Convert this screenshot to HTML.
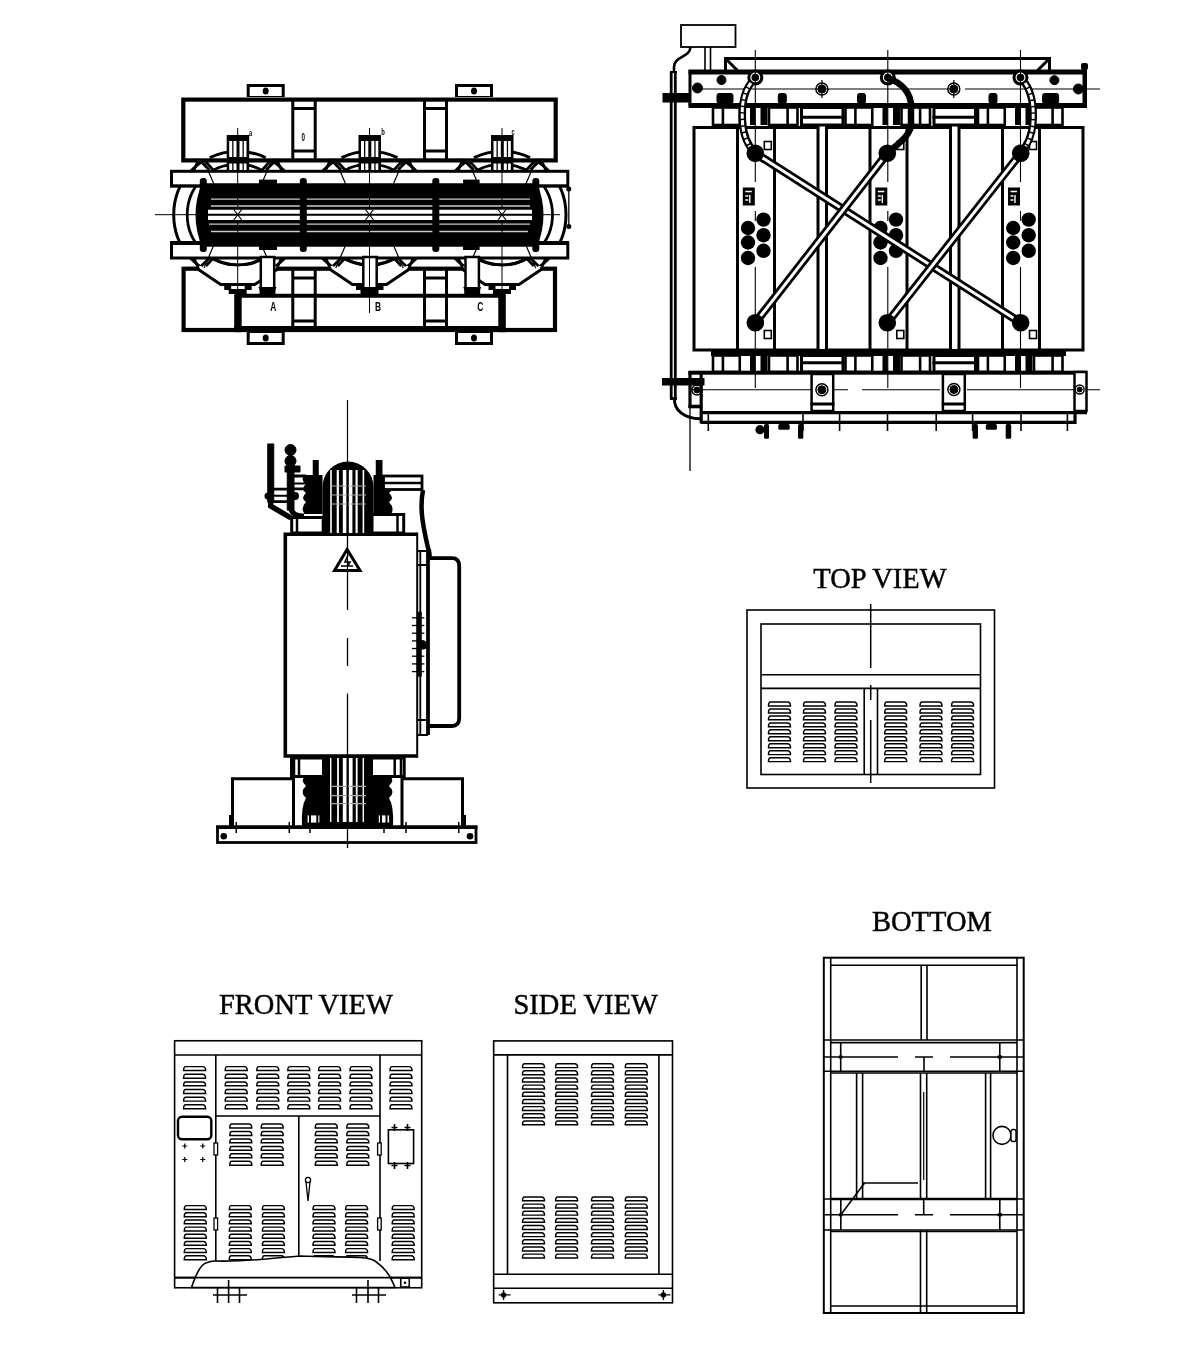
<!DOCTYPE html><html><head><meta charset="utf-8"><style>html,body{margin:0;padding:0;background:#fff;}svg{display:block;filter:grayscale(1)}</style></head><body><svg width="1200" height="1361" viewBox="0 0 1200 1361"><rect width="1200" height="1361" fill="#fff"/><g font-family="Liberation Serif" font-size="28.5" fill="#000" stroke="#000" stroke-width="0.45">
<text x="813.3" y="587.8">TOP VIEW</text>
<text x="872" y="931">BOTTOM</text>
<text x="219" y="1013.5">FRONT VIEW</text>
<text x="513.5" y="1013.5">SIDE VIEW</text>
</g><g fill="none" stroke="#000" stroke-width="1.6"><rect x="747" y="610" width="247.5" height="178"/><rect x="761" y="624" width="219.5" height="150.5"/><path d="M761 674.8H980.5M761 688.4H980.5M864.2 688.4V774.5M877.5 688.4V774.5"/></g><path d="M870.7 604V668M870.7 685V700M870.7 720V783" stroke="#000" stroke-width="1.5" fill="none"/><g fill="none" stroke="#000" stroke-width="1.45"><path d="M770.5 702.0H787.5Q790.5 702.0 790.5 705.9H768.5Q768.5 702.0 770.5 702.0Z"/><path d="M770.5 709.0H787.5Q790.5 709.0 790.5 712.9H768.5Q768.5 709.0 770.5 709.0Z"/><path d="M770.5 715.9H787.5Q790.5 715.9 790.5 719.8H768.5Q768.5 715.9 770.5 715.9Z"/><path d="M770.5 722.9H787.5Q790.5 722.9 790.5 726.8H768.5Q768.5 722.9 770.5 722.9Z"/><path d="M770.5 729.8H787.5Q790.5 729.8 790.5 733.7H768.5Q768.5 729.8 770.5 729.8Z"/><path d="M770.5 736.8H787.5Q790.5 736.8 790.5 740.7H768.5Q768.5 736.8 770.5 736.8Z"/><path d="M770.5 743.8H787.5Q790.5 743.8 790.5 747.7H768.5Q768.5 743.8 770.5 743.8Z"/><path d="M770.5 750.7H787.5Q790.5 750.7 790.5 754.6H768.5Q768.5 750.7 770.5 750.7Z"/><path d="M770.5 757.7H787.5Q790.5 757.7 790.5 761.6H768.5Q768.5 757.7 770.5 757.7Z"/><path d="M805.5 702.0H822.5Q825.5 702.0 825.5 705.9H803.5Q803.5 702.0 805.5 702.0Z"/><path d="M805.5 709.0H822.5Q825.5 709.0 825.5 712.9H803.5Q803.5 709.0 805.5 709.0Z"/><path d="M805.5 715.9H822.5Q825.5 715.9 825.5 719.8H803.5Q803.5 715.9 805.5 715.9Z"/><path d="M805.5 722.9H822.5Q825.5 722.9 825.5 726.8H803.5Q803.5 722.9 805.5 722.9Z"/><path d="M805.5 729.8H822.5Q825.5 729.8 825.5 733.7H803.5Q803.5 729.8 805.5 729.8Z"/><path d="M805.5 736.8H822.5Q825.5 736.8 825.5 740.7H803.5Q803.5 736.8 805.5 736.8Z"/><path d="M805.5 743.8H822.5Q825.5 743.8 825.5 747.7H803.5Q803.5 743.8 805.5 743.8Z"/><path d="M805.5 750.7H822.5Q825.5 750.7 825.5 754.6H803.5Q803.5 750.7 805.5 750.7Z"/><path d="M805.5 757.7H822.5Q825.5 757.7 825.5 761.6H803.5Q803.5 757.7 805.5 757.7Z"/><path d="M837.0 702.0H854.0Q857.0 702.0 857.0 705.9H835.0Q835.0 702.0 837.0 702.0Z"/><path d="M837.0 709.0H854.0Q857.0 709.0 857.0 712.9H835.0Q835.0 709.0 837.0 709.0Z"/><path d="M837.0 715.9H854.0Q857.0 715.9 857.0 719.8H835.0Q835.0 715.9 837.0 715.9Z"/><path d="M837.0 722.9H854.0Q857.0 722.9 857.0 726.8H835.0Q835.0 722.9 837.0 722.9Z"/><path d="M837.0 729.8H854.0Q857.0 729.8 857.0 733.7H835.0Q835.0 729.8 837.0 729.8Z"/><path d="M837.0 736.8H854.0Q857.0 736.8 857.0 740.7H835.0Q835.0 736.8 837.0 736.8Z"/><path d="M837.0 743.8H854.0Q857.0 743.8 857.0 747.7H835.0Q835.0 743.8 837.0 743.8Z"/><path d="M837.0 750.7H854.0Q857.0 750.7 857.0 754.6H835.0Q835.0 750.7 837.0 750.7Z"/><path d="M837.0 757.7H854.0Q857.0 757.7 857.0 761.6H835.0Q835.0 757.7 837.0 757.7Z"/><path d="M886.7 702.0H903.7Q906.7 702.0 906.7 705.9H884.7Q884.7 702.0 886.7 702.0Z"/><path d="M886.7 709.0H903.7Q906.7 709.0 906.7 712.9H884.7Q884.7 709.0 886.7 709.0Z"/><path d="M886.7 715.9H903.7Q906.7 715.9 906.7 719.8H884.7Q884.7 715.9 886.7 715.9Z"/><path d="M886.7 722.9H903.7Q906.7 722.9 906.7 726.8H884.7Q884.7 722.9 886.7 722.9Z"/><path d="M886.7 729.8H903.7Q906.7 729.8 906.7 733.7H884.7Q884.7 729.8 886.7 729.8Z"/><path d="M886.7 736.8H903.7Q906.7 736.8 906.7 740.7H884.7Q884.7 736.8 886.7 736.8Z"/><path d="M886.7 743.8H903.7Q906.7 743.8 906.7 747.7H884.7Q884.7 743.8 886.7 743.8Z"/><path d="M886.7 750.7H903.7Q906.7 750.7 906.7 754.6H884.7Q884.7 750.7 886.7 750.7Z"/><path d="M886.7 757.7H903.7Q906.7 757.7 906.7 761.6H884.7Q884.7 757.7 886.7 757.7Z"/><path d="M922.0 702.0H939.0Q942.0 702.0 942.0 705.9H920.0Q920.0 702.0 922.0 702.0Z"/><path d="M922.0 709.0H939.0Q942.0 709.0 942.0 712.9H920.0Q920.0 709.0 922.0 709.0Z"/><path d="M922.0 715.9H939.0Q942.0 715.9 942.0 719.8H920.0Q920.0 715.9 922.0 715.9Z"/><path d="M922.0 722.9H939.0Q942.0 722.9 942.0 726.8H920.0Q920.0 722.9 922.0 722.9Z"/><path d="M922.0 729.8H939.0Q942.0 729.8 942.0 733.7H920.0Q920.0 729.8 922.0 729.8Z"/><path d="M922.0 736.8H939.0Q942.0 736.8 942.0 740.7H920.0Q920.0 736.8 922.0 736.8Z"/><path d="M922.0 743.8H939.0Q942.0 743.8 942.0 747.7H920.0Q920.0 743.8 922.0 743.8Z"/><path d="M922.0 750.7H939.0Q942.0 750.7 942.0 754.6H920.0Q920.0 750.7 922.0 750.7Z"/><path d="M922.0 757.7H939.0Q942.0 757.7 942.0 761.6H920.0Q920.0 757.7 922.0 757.7Z"/><path d="M953.6 702.0H970.6Q973.6 702.0 973.6 705.9H951.6Q951.6 702.0 953.6 702.0Z"/><path d="M953.6 709.0H970.6Q973.6 709.0 973.6 712.9H951.6Q951.6 709.0 953.6 709.0Z"/><path d="M953.6 715.9H970.6Q973.6 715.9 973.6 719.8H951.6Q951.6 715.9 953.6 715.9Z"/><path d="M953.6 722.9H970.6Q973.6 722.9 973.6 726.8H951.6Q951.6 722.9 953.6 722.9Z"/><path d="M953.6 729.8H970.6Q973.6 729.8 973.6 733.7H951.6Q951.6 729.8 953.6 729.8Z"/><path d="M953.6 736.8H970.6Q973.6 736.8 973.6 740.7H951.6Q951.6 736.8 953.6 736.8Z"/><path d="M953.6 743.8H970.6Q973.6 743.8 973.6 747.7H951.6Q951.6 743.8 953.6 743.8Z"/><path d="M953.6 750.7H970.6Q973.6 750.7 973.6 754.6H951.6Q951.6 750.7 953.6 750.7Z"/><path d="M953.6 757.7H970.6Q973.6 757.7 973.6 761.6H951.6Q951.6 757.7 953.6 757.7Z"/></g><g fill="none" stroke="#000" stroke-width="1.6"><rect x="823.8" y="957.7" width="199.9" height="355.3" stroke-width="2"/><path d="M830.7 957.7V1313M1017 957.7V1313"/><path d="M830.7 965.3H1017M921.2 965.3V1040M927 965.3V1040"/><path d="M823.8 1040H1023.7M830.7 1042.6H1017M823.8 1071.3H1023.7M830.7 1073H1017"/><path d="M823.8 1057H840.7M999.8 1057H1023.7M840.7 1057H898M915 1057H933M950 1057H999.8M924 1057V1071.3"/><path d="M840.7 1042.6V1071.3M999.8 1042.6V1071.3"/><path d="M856.6 1073V1199M862.6 1073V1199M985.6 1073V1199M990.6 1073V1199M920.5 1073V1199M926.7 1073V1199"/><path d="M923.7 1092V1180" stroke-width="1.2"/><path d="M862.6 1183H918M840.8 1214.8L864.6 1183"/><path d="M830.7 1199H1017" stroke-width="2.4"/><path d="M823.8 1199H830.7M1017 1199H1023.7M823.8 1230H1023.7M840.8 1199V1230M999.8 1199V1230"/><path d="M823.8 1214.8H898M915 1214.8H933M950 1214.8H1023.7M923.7 1199V1214.8"/><path d="M830.7 1231.5H1017M920.5 1230V1313M926.7 1230V1313M830.7 1306H1017"/></g><g fill="#000"><ellipse cx="840.8" cy="1214.8" rx="2" ry="2"/><ellipse cx="999.8" cy="1214.8" rx="2.5" ry="2"/><ellipse cx="840.7" cy="1057" rx="2" ry="2"/><ellipse cx="999.8" cy="1057" rx="2.5" ry="2"/></g><circle cx="1002" cy="1135.4" r="9" fill="#fff" stroke="#000" stroke-width="1.6"/><rect x="1011" y="1129.5" width="5" height="12" rx="2" fill="#fff" stroke="#000" stroke-width="1.4"/><g fill="none" stroke="#000" stroke-width="1.6"><rect x="174.6" y="1040.75" width="247.1" height="247"/><path d="M174.6 1055H421.7M215.8 1055V1261M380 1055V1261M215.8 1116H380M298.8 1116V1261M174.6 1277.6H421.7"/><rect x="178" y="1116.75" width="33.3" height="22.5" rx="4" stroke-width="2.4"/><rect x="388.4" y="1129.8" width="25.2" height="33.7"/><rect x="400.75" y="1278" width="8.5" height="9"/></g><g fill="none" stroke="#000" stroke-width="1.45"><path d="M185.6 1066.6H202.6Q205.6 1066.6 205.6 1070.5H183.6Q183.6 1066.6 185.6 1066.6Z"/><path d="M185.6 1074.2H202.6Q205.6 1074.2 205.6 1078.2H183.6Q183.6 1074.2 185.6 1074.2Z"/><path d="M185.6 1081.9H202.6Q205.6 1081.9 205.6 1085.8H183.6Q183.6 1081.9 185.6 1081.9Z"/><path d="M185.6 1089.5H202.6Q205.6 1089.5 205.6 1093.5H183.6Q183.6 1089.5 185.6 1089.5Z"/><path d="M185.6 1097.2H202.6Q205.6 1097.2 205.6 1101.1H183.6Q183.6 1097.2 185.6 1097.2Z"/><path d="M185.6 1104.8H202.6Q205.6 1104.8 205.6 1108.8H183.6Q183.6 1104.8 185.6 1104.8Z"/><path d="M227.2 1066.6H244.2Q247.2 1066.6 247.2 1070.5H225.2Q225.2 1066.6 227.2 1066.6Z"/><path d="M227.2 1074.2H244.2Q247.2 1074.2 247.2 1078.2H225.2Q225.2 1074.2 227.2 1074.2Z"/><path d="M227.2 1081.9H244.2Q247.2 1081.9 247.2 1085.8H225.2Q225.2 1081.9 227.2 1081.9Z"/><path d="M227.2 1089.5H244.2Q247.2 1089.5 247.2 1093.5H225.2Q225.2 1089.5 227.2 1089.5Z"/><path d="M227.2 1097.2H244.2Q247.2 1097.2 247.2 1101.1H225.2Q225.2 1097.2 227.2 1097.2Z"/><path d="M227.2 1104.8H244.2Q247.2 1104.8 247.2 1108.8H225.2Q225.2 1104.8 227.2 1104.8Z"/><path d="M258.8 1066.6H275.8Q278.8 1066.6 278.8 1070.5H256.8Q256.8 1066.6 258.8 1066.6Z"/><path d="M258.8 1074.2H275.8Q278.8 1074.2 278.8 1078.2H256.8Q256.8 1074.2 258.8 1074.2Z"/><path d="M258.8 1081.9H275.8Q278.8 1081.9 278.8 1085.8H256.8Q256.8 1081.9 258.8 1081.9Z"/><path d="M258.8 1089.5H275.8Q278.8 1089.5 278.8 1093.5H256.8Q256.8 1089.5 258.8 1089.5Z"/><path d="M258.8 1097.2H275.8Q278.8 1097.2 278.8 1101.1H256.8Q256.8 1097.2 258.8 1097.2Z"/><path d="M258.8 1104.8H275.8Q278.8 1104.8 278.8 1108.8H256.8Q256.8 1104.8 258.8 1104.8Z"/><path d="M289.8 1066.6H306.8Q309.8 1066.6 309.8 1070.5H287.8Q287.8 1066.6 289.8 1066.6Z"/><path d="M289.8 1074.2H306.8Q309.8 1074.2 309.8 1078.2H287.8Q287.8 1074.2 289.8 1074.2Z"/><path d="M289.8 1081.9H306.8Q309.8 1081.9 309.8 1085.8H287.8Q287.8 1081.9 289.8 1081.9Z"/><path d="M289.8 1089.5H306.8Q309.8 1089.5 309.8 1093.5H287.8Q287.8 1089.5 289.8 1089.5Z"/><path d="M289.8 1097.2H306.8Q309.8 1097.2 309.8 1101.1H287.8Q287.8 1097.2 289.8 1097.2Z"/><path d="M289.8 1104.8H306.8Q309.8 1104.8 309.8 1108.8H287.8Q287.8 1104.8 289.8 1104.8Z"/><path d="M320.6 1066.6H337.6Q340.6 1066.6 340.6 1070.5H318.6Q318.6 1066.6 320.6 1066.6Z"/><path d="M320.6 1074.2H337.6Q340.6 1074.2 340.6 1078.2H318.6Q318.6 1074.2 320.6 1074.2Z"/><path d="M320.6 1081.9H337.6Q340.6 1081.9 340.6 1085.8H318.6Q318.6 1081.9 320.6 1081.9Z"/><path d="M320.6 1089.5H337.6Q340.6 1089.5 340.6 1093.5H318.6Q318.6 1089.5 320.6 1089.5Z"/><path d="M320.6 1097.2H337.6Q340.6 1097.2 340.6 1101.1H318.6Q318.6 1097.2 320.6 1097.2Z"/><path d="M320.6 1104.8H337.6Q340.6 1104.8 340.6 1108.8H318.6Q318.6 1104.8 320.6 1104.8Z"/><path d="M352.0 1066.6H369.0Q372.0 1066.6 372.0 1070.5H350.0Q350.0 1066.6 352.0 1066.6Z"/><path d="M352.0 1074.2H369.0Q372.0 1074.2 372.0 1078.2H350.0Q350.0 1074.2 352.0 1074.2Z"/><path d="M352.0 1081.9H369.0Q372.0 1081.9 372.0 1085.8H350.0Q350.0 1081.9 352.0 1081.9Z"/><path d="M352.0 1089.5H369.0Q372.0 1089.5 372.0 1093.5H350.0Q350.0 1089.5 352.0 1089.5Z"/><path d="M352.0 1097.2H369.0Q372.0 1097.2 372.0 1101.1H350.0Q350.0 1097.2 352.0 1097.2Z"/><path d="M352.0 1104.8H369.0Q372.0 1104.8 372.0 1108.8H350.0Q350.0 1104.8 352.0 1104.8Z"/><path d="M392.0 1066.6H409.0Q412.0 1066.6 412.0 1070.5H390.0Q390.0 1066.6 392.0 1066.6Z"/><path d="M392.0 1074.2H409.0Q412.0 1074.2 412.0 1078.2H390.0Q390.0 1074.2 392.0 1074.2Z"/><path d="M392.0 1081.9H409.0Q412.0 1081.9 412.0 1085.8H390.0Q390.0 1081.9 392.0 1081.9Z"/><path d="M392.0 1089.5H409.0Q412.0 1089.5 412.0 1093.5H390.0Q390.0 1089.5 392.0 1089.5Z"/><path d="M392.0 1097.2H409.0Q412.0 1097.2 412.0 1101.1H390.0Q390.0 1097.2 392.0 1097.2Z"/><path d="M392.0 1104.8H409.0Q412.0 1104.8 412.0 1108.8H390.0Q390.0 1104.8 392.0 1104.8Z"/><path d="M231.8 1124.0H248.8Q251.8 1124.0 251.8 1127.9H229.8Q229.8 1124.0 231.8 1124.0Z"/><path d="M231.8 1131.5H248.8Q251.8 1131.5 251.8 1135.4H229.8Q229.8 1131.5 231.8 1131.5Z"/><path d="M231.8 1138.9H248.8Q251.8 1138.9 251.8 1142.8H229.8Q229.8 1138.9 231.8 1138.9Z"/><path d="M231.8 1146.4H248.8Q251.8 1146.4 251.8 1150.3H229.8Q229.8 1146.4 231.8 1146.4Z"/><path d="M231.8 1153.8H248.8Q251.8 1153.8 251.8 1157.7H229.8Q229.8 1153.8 231.8 1153.8Z"/><path d="M231.8 1161.3H248.8Q251.8 1161.3 251.8 1165.2H229.8Q229.8 1161.3 231.8 1161.3Z"/><path d="M263.2 1124.0H280.2Q283.2 1124.0 283.2 1127.9H261.2Q261.2 1124.0 263.2 1124.0Z"/><path d="M263.2 1131.5H280.2Q283.2 1131.5 283.2 1135.4H261.2Q261.2 1131.5 263.2 1131.5Z"/><path d="M263.2 1138.9H280.2Q283.2 1138.9 283.2 1142.8H261.2Q261.2 1138.9 263.2 1138.9Z"/><path d="M263.2 1146.4H280.2Q283.2 1146.4 283.2 1150.3H261.2Q261.2 1146.4 263.2 1146.4Z"/><path d="M263.2 1153.8H280.2Q283.2 1153.8 283.2 1157.7H261.2Q261.2 1153.8 263.2 1153.8Z"/><path d="M263.2 1161.3H280.2Q283.2 1161.3 283.2 1165.2H261.2Q261.2 1161.3 263.2 1161.3Z"/><path d="M317.3 1124.0H334.3Q337.3 1124.0 337.3 1127.9H315.3Q315.3 1124.0 317.3 1124.0Z"/><path d="M317.3 1131.5H334.3Q337.3 1131.5 337.3 1135.4H315.3Q315.3 1131.5 317.3 1131.5Z"/><path d="M317.3 1138.9H334.3Q337.3 1138.9 337.3 1142.8H315.3Q315.3 1138.9 317.3 1138.9Z"/><path d="M317.3 1146.4H334.3Q337.3 1146.4 337.3 1150.3H315.3Q315.3 1146.4 317.3 1146.4Z"/><path d="M317.3 1153.8H334.3Q337.3 1153.8 337.3 1157.7H315.3Q315.3 1153.8 317.3 1153.8Z"/><path d="M317.3 1161.3H334.3Q337.3 1161.3 337.3 1165.2H315.3Q315.3 1161.3 317.3 1161.3Z"/><path d="M348.8 1124.0H365.8Q368.8 1124.0 368.8 1127.9H346.8Q346.8 1124.0 348.8 1124.0Z"/><path d="M348.8 1131.5H365.8Q368.8 1131.5 368.8 1135.4H346.8Q346.8 1131.5 348.8 1131.5Z"/><path d="M348.8 1138.9H365.8Q368.8 1138.9 368.8 1142.8H346.8Q346.8 1138.9 348.8 1138.9Z"/><path d="M348.8 1146.4H365.8Q368.8 1146.4 368.8 1150.3H346.8Q346.8 1146.4 348.8 1146.4Z"/><path d="M348.8 1153.8H365.8Q368.8 1153.8 368.8 1157.7H346.8Q346.8 1153.8 348.8 1153.8Z"/><path d="M348.8 1161.3H365.8Q368.8 1161.3 368.8 1165.2H346.8Q346.8 1161.3 348.8 1161.3Z"/><path d="M186.3 1205.6H203.3Q206.3 1205.6 206.3 1209.5H184.3Q184.3 1205.6 186.3 1205.6Z"/><path d="M186.3 1212.8H203.3Q206.3 1212.8 206.3 1216.7H184.3Q184.3 1212.8 186.3 1212.8Z"/><path d="M186.3 1219.9H203.3Q206.3 1219.9 206.3 1223.8H184.3Q184.3 1219.9 186.3 1219.9Z"/><path d="M186.3 1227.1H203.3Q206.3 1227.1 206.3 1231.0H184.3Q184.3 1227.1 186.3 1227.1Z"/><path d="M186.3 1234.3H203.3Q206.3 1234.3 206.3 1238.2H184.3Q184.3 1234.3 186.3 1234.3Z"/><path d="M186.3 1241.4H203.3Q206.3 1241.4 206.3 1245.3H184.3Q184.3 1241.4 186.3 1241.4Z"/><path d="M186.3 1248.6H203.3Q206.3 1248.6 206.3 1252.5H184.3Q184.3 1248.6 186.3 1248.6Z"/><path d="M186.3 1255.8H203.3Q206.3 1255.8 206.3 1259.7H184.3Q184.3 1255.8 186.3 1255.8Z"/><path d="M231.3 1205.6H248.3Q251.3 1205.6 251.3 1209.5H229.3Q229.3 1205.6 231.3 1205.6Z"/><path d="M231.3 1212.8H248.3Q251.3 1212.8 251.3 1216.7H229.3Q229.3 1212.8 231.3 1212.8Z"/><path d="M231.3 1219.9H248.3Q251.3 1219.9 251.3 1223.8H229.3Q229.3 1219.9 231.3 1219.9Z"/><path d="M231.3 1227.1H248.3Q251.3 1227.1 251.3 1231.0H229.3Q229.3 1227.1 231.3 1227.1Z"/><path d="M231.3 1234.3H248.3Q251.3 1234.3 251.3 1238.2H229.3Q229.3 1234.3 231.3 1234.3Z"/><path d="M231.3 1241.4H248.3Q251.3 1241.4 251.3 1245.3H229.3Q229.3 1241.4 231.3 1241.4Z"/><path d="M231.3 1248.6H248.3Q251.3 1248.6 251.3 1252.5H229.3Q229.3 1248.6 231.3 1248.6Z"/><path d="M231.3 1255.8H248.3Q251.3 1255.8 251.3 1259.7H229.3Q229.3 1255.8 231.3 1255.8Z"/><path d="M264.4 1205.6H281.4Q284.4 1205.6 284.4 1209.5H262.4Q262.4 1205.6 264.4 1205.6Z"/><path d="M264.4 1212.8H281.4Q284.4 1212.8 284.4 1216.7H262.4Q262.4 1212.8 264.4 1212.8Z"/><path d="M264.4 1219.9H281.4Q284.4 1219.9 284.4 1223.8H262.4Q262.4 1219.9 264.4 1219.9Z"/><path d="M264.4 1227.1H281.4Q284.4 1227.1 284.4 1231.0H262.4Q262.4 1227.1 264.4 1227.1Z"/><path d="M264.4 1234.3H281.4Q284.4 1234.3 284.4 1238.2H262.4Q262.4 1234.3 264.4 1234.3Z"/><path d="M264.4 1241.4H281.4Q284.4 1241.4 284.4 1245.3H262.4Q262.4 1241.4 264.4 1241.4Z"/><path d="M264.4 1248.6H281.4Q284.4 1248.6 284.4 1252.5H262.4Q262.4 1248.6 264.4 1248.6Z"/><path d="M264.4 1255.8H281.4Q284.4 1255.8 284.4 1259.7H262.4Q262.4 1255.8 264.4 1255.8Z"/><path d="M315.0 1205.6H332.0Q335.0 1205.6 335.0 1209.5H313.0Q313.0 1205.6 315.0 1205.6Z"/><path d="M315.0 1212.8H332.0Q335.0 1212.8 335.0 1216.7H313.0Q313.0 1212.8 315.0 1212.8Z"/><path d="M315.0 1219.9H332.0Q335.0 1219.9 335.0 1223.8H313.0Q313.0 1219.9 315.0 1219.9Z"/><path d="M315.0 1227.1H332.0Q335.0 1227.1 335.0 1231.0H313.0Q313.0 1227.1 315.0 1227.1Z"/><path d="M315.0 1234.3H332.0Q335.0 1234.3 335.0 1238.2H313.0Q313.0 1234.3 315.0 1234.3Z"/><path d="M315.0 1241.4H332.0Q335.0 1241.4 335.0 1245.3H313.0Q313.0 1241.4 315.0 1241.4Z"/><path d="M315.0 1248.6H332.0Q335.0 1248.6 335.0 1252.5H313.0Q313.0 1248.6 315.0 1248.6Z"/><path d="M315.0 1255.8H332.0Q335.0 1255.8 335.0 1259.7H313.0Q313.0 1255.8 315.0 1255.8Z"/><path d="M347.6 1205.6H364.6Q367.6 1205.6 367.6 1209.5H345.6Q345.6 1205.6 347.6 1205.6Z"/><path d="M347.6 1212.8H364.6Q367.6 1212.8 367.6 1216.7H345.6Q345.6 1212.8 347.6 1212.8Z"/><path d="M347.6 1219.9H364.6Q367.6 1219.9 367.6 1223.8H345.6Q345.6 1219.9 347.6 1219.9Z"/><path d="M347.6 1227.1H364.6Q367.6 1227.1 367.6 1231.0H345.6Q345.6 1227.1 347.6 1227.1Z"/><path d="M347.6 1234.3H364.6Q367.6 1234.3 367.6 1238.2H345.6Q345.6 1234.3 347.6 1234.3Z"/><path d="M347.6 1241.4H364.6Q367.6 1241.4 367.6 1245.3H345.6Q345.6 1241.4 347.6 1241.4Z"/><path d="M347.6 1248.6H364.6Q367.6 1248.6 367.6 1252.5H345.6Q345.6 1248.6 347.6 1248.6Z"/><path d="M347.6 1255.8H364.6Q367.6 1255.8 367.6 1259.7H345.6Q345.6 1255.8 347.6 1255.8Z"/><path d="M394.2 1205.6H411.2Q414.2 1205.6 414.2 1209.5H392.2Q392.2 1205.6 394.2 1205.6Z"/><path d="M394.2 1212.8H411.2Q414.2 1212.8 414.2 1216.7H392.2Q392.2 1212.8 394.2 1212.8Z"/><path d="M394.2 1219.9H411.2Q414.2 1219.9 414.2 1223.8H392.2Q392.2 1219.9 394.2 1219.9Z"/><path d="M394.2 1227.1H411.2Q414.2 1227.1 414.2 1231.0H392.2Q392.2 1227.1 394.2 1227.1Z"/><path d="M394.2 1234.3H411.2Q414.2 1234.3 414.2 1238.2H392.2Q392.2 1234.3 394.2 1234.3Z"/><path d="M394.2 1241.4H411.2Q414.2 1241.4 414.2 1245.3H392.2Q392.2 1241.4 394.2 1241.4Z"/><path d="M394.2 1248.6H411.2Q414.2 1248.6 414.2 1252.5H392.2Q392.2 1248.6 394.2 1248.6Z"/><path d="M394.2 1255.8H411.2Q414.2 1255.8 414.2 1259.7H392.2Q392.2 1255.8 394.2 1255.8Z"/></g><path d="M191.5 1287.5C200 1262 205 1262 215 1261C250 1262 270 1258 300 1256C340 1258 365 1255 375 1261C385 1268 390 1275 395 1287.5Z" fill="#fff" stroke="#000" stroke-width="1.6"/><path d="M174.6 1277.6H421.7" stroke="#000" stroke-width="1.6"/><g fill="#fff" stroke="#000" stroke-width="1.3"><rect x="214.0" y="1143" width="3.6" height="12"/><rect x="214.0" y="1218" width="3.6" height="12"/><rect x="377.59999999999997" y="1143" width="3.6" height="12"/><rect x="377.59999999999997" y="1218" width="3.6" height="12"/></g><path d="M306 1182L308 1201L310 1182" fill="none" stroke="#000" stroke-width="1.3"/><circle cx="308" cy="1180" r="2.6" fill="#fff" stroke="#000" stroke-width="1.3"/><g stroke="#000" stroke-width="1.6"><path d="M391.5 1127.5H397.5M394.5 1124.0V1131.0"/><path d="M391.5 1165.5H397.5M394.5 1162.0V1169.0"/><path d="M404.5 1127.5H410.5M407.5 1124.0V1131.0"/><path d="M404.5 1165.5H410.5M407.5 1162.0V1169.0"/></g><circle cx="405" cy="1282.7" r="1.3" fill="#000"/><g stroke="#000" stroke-width="1.2"><path d="M182.25 1146H187.25M184.75 1143.5V1148.5"/><path d="M200.25 1146H205.25M202.75 1143.5V1148.5"/><path d="M182.25 1159.5H187.25M184.75 1157.0V1162.0"/><path d="M200.25 1159.5H205.25M202.75 1157.0V1162.0"/></g><g stroke="#000" stroke-width="1.6" fill="none"><path d="M213 1295H247M217.5 1288V1303M228.6 1280V1303M239.5 1288V1303"/><path d="M352 1295H386M356.5 1288V1303M368 1280V1303M378.5 1288V1303"/></g><g fill="none" stroke="#000" stroke-width="1.6"><rect x="493.65" y="1040.9" width="178.85" height="261.9"/><path d="M493.65 1054.9H672.5M507.5 1054.9V1274.25M658.9 1054.9V1274.25M493.65 1274.25H672.5M493.65 1288.25H672.5"/></g><g fill="none" stroke="#000" stroke-width="1.45"><path d="M524.5 1063.7H541.5Q544.5 1063.7 544.5 1067.6H522.5Q522.5 1063.7 524.5 1063.7Z"/><path d="M524.5 1070.8H541.5Q544.5 1070.8 544.5 1074.7H522.5Q522.5 1070.8 524.5 1070.8Z"/><path d="M524.5 1078.0H541.5Q544.5 1078.0 544.5 1081.9H522.5Q522.5 1078.0 524.5 1078.0Z"/><path d="M524.5 1085.1H541.5Q544.5 1085.1 544.5 1089.0H522.5Q522.5 1085.1 524.5 1085.1Z"/><path d="M524.5 1092.3H541.5Q544.5 1092.3 544.5 1096.2H522.5Q522.5 1092.3 524.5 1092.3Z"/><path d="M524.5 1099.5H541.5Q544.5 1099.5 544.5 1103.4H522.5Q522.5 1099.5 524.5 1099.5Z"/><path d="M524.5 1106.6H541.5Q544.5 1106.6 544.5 1110.5H522.5Q522.5 1106.6 524.5 1106.6Z"/><path d="M524.5 1113.8H541.5Q544.5 1113.8 544.5 1117.7H522.5Q522.5 1113.8 524.5 1113.8Z"/><path d="M524.5 1120.9H541.5Q544.5 1120.9 544.5 1124.8H522.5Q522.5 1120.9 524.5 1120.9Z"/><path d="M557.6 1063.7H574.6Q577.6 1063.7 577.6 1067.6H555.6Q555.6 1063.7 557.6 1063.7Z"/><path d="M557.6 1070.8H574.6Q577.6 1070.8 577.6 1074.7H555.6Q555.6 1070.8 557.6 1070.8Z"/><path d="M557.6 1078.0H574.6Q577.6 1078.0 577.6 1081.9H555.6Q555.6 1078.0 557.6 1078.0Z"/><path d="M557.6 1085.1H574.6Q577.6 1085.1 577.6 1089.0H555.6Q555.6 1085.1 557.6 1085.1Z"/><path d="M557.6 1092.3H574.6Q577.6 1092.3 577.6 1096.2H555.6Q555.6 1092.3 557.6 1092.3Z"/><path d="M557.6 1099.5H574.6Q577.6 1099.5 577.6 1103.4H555.6Q555.6 1099.5 557.6 1099.5Z"/><path d="M557.6 1106.6H574.6Q577.6 1106.6 577.6 1110.5H555.6Q555.6 1106.6 557.6 1106.6Z"/><path d="M557.6 1113.8H574.6Q577.6 1113.8 577.6 1117.7H555.6Q555.6 1113.8 557.6 1113.8Z"/><path d="M557.6 1120.9H574.6Q577.6 1120.9 577.6 1124.8H555.6Q555.6 1120.9 557.6 1120.9Z"/><path d="M593.5 1063.7H610.5Q613.5 1063.7 613.5 1067.6H591.5Q591.5 1063.7 593.5 1063.7Z"/><path d="M593.5 1070.8H610.5Q613.5 1070.8 613.5 1074.7H591.5Q591.5 1070.8 593.5 1070.8Z"/><path d="M593.5 1078.0H610.5Q613.5 1078.0 613.5 1081.9H591.5Q591.5 1078.0 593.5 1078.0Z"/><path d="M593.5 1085.1H610.5Q613.5 1085.1 613.5 1089.0H591.5Q591.5 1085.1 593.5 1085.1Z"/><path d="M593.5 1092.3H610.5Q613.5 1092.3 613.5 1096.2H591.5Q591.5 1092.3 593.5 1092.3Z"/><path d="M593.5 1099.5H610.5Q613.5 1099.5 613.5 1103.4H591.5Q591.5 1099.5 593.5 1099.5Z"/><path d="M593.5 1106.6H610.5Q613.5 1106.6 613.5 1110.5H591.5Q591.5 1106.6 593.5 1106.6Z"/><path d="M593.5 1113.8H610.5Q613.5 1113.8 613.5 1117.7H591.5Q591.5 1113.8 593.5 1113.8Z"/><path d="M593.5 1120.9H610.5Q613.5 1120.9 613.5 1124.8H591.5Q591.5 1120.9 593.5 1120.9Z"/><path d="M627.3 1063.7H644.3Q647.3 1063.7 647.3 1067.6H625.3Q625.3 1063.7 627.3 1063.7Z"/><path d="M627.3 1070.8H644.3Q647.3 1070.8 647.3 1074.7H625.3Q625.3 1070.8 627.3 1070.8Z"/><path d="M627.3 1078.0H644.3Q647.3 1078.0 647.3 1081.9H625.3Q625.3 1078.0 627.3 1078.0Z"/><path d="M627.3 1085.1H644.3Q647.3 1085.1 647.3 1089.0H625.3Q625.3 1085.1 627.3 1085.1Z"/><path d="M627.3 1092.3H644.3Q647.3 1092.3 647.3 1096.2H625.3Q625.3 1092.3 627.3 1092.3Z"/><path d="M627.3 1099.5H644.3Q647.3 1099.5 647.3 1103.4H625.3Q625.3 1099.5 627.3 1099.5Z"/><path d="M627.3 1106.6H644.3Q647.3 1106.6 647.3 1110.5H625.3Q625.3 1106.6 627.3 1106.6Z"/><path d="M627.3 1113.8H644.3Q647.3 1113.8 647.3 1117.7H625.3Q625.3 1113.8 627.3 1113.8Z"/><path d="M627.3 1120.9H644.3Q647.3 1120.9 647.3 1124.8H625.3Q625.3 1120.9 627.3 1120.9Z"/><path d="M524.5 1196.9H541.5Q544.5 1196.9 544.5 1200.8H522.5Q522.5 1196.9 524.5 1196.9Z"/><path d="M524.5 1204.1H541.5Q544.5 1204.1 544.5 1208.0H522.5Q522.5 1204.1 524.5 1204.1Z"/><path d="M524.5 1211.2H541.5Q544.5 1211.2 544.5 1215.1H522.5Q522.5 1211.2 524.5 1211.2Z"/><path d="M524.5 1218.4H541.5Q544.5 1218.4 544.5 1222.3H522.5Q522.5 1218.4 524.5 1218.4Z"/><path d="M524.5 1225.5H541.5Q544.5 1225.5 544.5 1229.4H522.5Q522.5 1225.5 524.5 1225.5Z"/><path d="M524.5 1232.7H541.5Q544.5 1232.7 544.5 1236.6H522.5Q522.5 1232.7 524.5 1232.7Z"/><path d="M524.5 1239.8H541.5Q544.5 1239.8 544.5 1243.7H522.5Q522.5 1239.8 524.5 1239.8Z"/><path d="M524.5 1247.0H541.5Q544.5 1247.0 544.5 1250.9H522.5Q522.5 1247.0 524.5 1247.0Z"/><path d="M524.5 1254.1H541.5Q544.5 1254.1 544.5 1258.0H522.5Q522.5 1254.1 524.5 1254.1Z"/><path d="M557.6 1196.9H574.6Q577.6 1196.9 577.6 1200.8H555.6Q555.6 1196.9 557.6 1196.9Z"/><path d="M557.6 1204.1H574.6Q577.6 1204.1 577.6 1208.0H555.6Q555.6 1204.1 557.6 1204.1Z"/><path d="M557.6 1211.2H574.6Q577.6 1211.2 577.6 1215.1H555.6Q555.6 1211.2 557.6 1211.2Z"/><path d="M557.6 1218.4H574.6Q577.6 1218.4 577.6 1222.3H555.6Q555.6 1218.4 557.6 1218.4Z"/><path d="M557.6 1225.5H574.6Q577.6 1225.5 577.6 1229.4H555.6Q555.6 1225.5 557.6 1225.5Z"/><path d="M557.6 1232.7H574.6Q577.6 1232.7 577.6 1236.6H555.6Q555.6 1232.7 557.6 1232.7Z"/><path d="M557.6 1239.8H574.6Q577.6 1239.8 577.6 1243.7H555.6Q555.6 1239.8 557.6 1239.8Z"/><path d="M557.6 1247.0H574.6Q577.6 1247.0 577.6 1250.9H555.6Q555.6 1247.0 557.6 1247.0Z"/><path d="M557.6 1254.1H574.6Q577.6 1254.1 577.6 1258.0H555.6Q555.6 1254.1 557.6 1254.1Z"/><path d="M593.5 1196.9H610.5Q613.5 1196.9 613.5 1200.8H591.5Q591.5 1196.9 593.5 1196.9Z"/><path d="M593.5 1204.1H610.5Q613.5 1204.1 613.5 1208.0H591.5Q591.5 1204.1 593.5 1204.1Z"/><path d="M593.5 1211.2H610.5Q613.5 1211.2 613.5 1215.1H591.5Q591.5 1211.2 593.5 1211.2Z"/><path d="M593.5 1218.4H610.5Q613.5 1218.4 613.5 1222.3H591.5Q591.5 1218.4 593.5 1218.4Z"/><path d="M593.5 1225.5H610.5Q613.5 1225.5 613.5 1229.4H591.5Q591.5 1225.5 593.5 1225.5Z"/><path d="M593.5 1232.7H610.5Q613.5 1232.7 613.5 1236.6H591.5Q591.5 1232.7 593.5 1232.7Z"/><path d="M593.5 1239.8H610.5Q613.5 1239.8 613.5 1243.7H591.5Q591.5 1239.8 593.5 1239.8Z"/><path d="M593.5 1247.0H610.5Q613.5 1247.0 613.5 1250.9H591.5Q591.5 1247.0 593.5 1247.0Z"/><path d="M593.5 1254.1H610.5Q613.5 1254.1 613.5 1258.0H591.5Q591.5 1254.1 593.5 1254.1Z"/><path d="M627.3 1196.9H644.3Q647.3 1196.9 647.3 1200.8H625.3Q625.3 1196.9 627.3 1196.9Z"/><path d="M627.3 1204.1H644.3Q647.3 1204.1 647.3 1208.0H625.3Q625.3 1204.1 627.3 1204.1Z"/><path d="M627.3 1211.2H644.3Q647.3 1211.2 647.3 1215.1H625.3Q625.3 1211.2 627.3 1211.2Z"/><path d="M627.3 1218.4H644.3Q647.3 1218.4 647.3 1222.3H625.3Q625.3 1218.4 627.3 1218.4Z"/><path d="M627.3 1225.5H644.3Q647.3 1225.5 647.3 1229.4H625.3Q625.3 1225.5 627.3 1225.5Z"/><path d="M627.3 1232.7H644.3Q647.3 1232.7 647.3 1236.6H625.3Q625.3 1232.7 627.3 1232.7Z"/><path d="M627.3 1239.8H644.3Q647.3 1239.8 647.3 1243.7H625.3Q625.3 1239.8 627.3 1239.8Z"/><path d="M627.3 1247.0H644.3Q647.3 1247.0 647.3 1250.9H625.3Q625.3 1247.0 627.3 1247.0Z"/><path d="M627.3 1254.1H644.3Q647.3 1254.1 647.3 1258.0H625.3Q625.3 1254.1 627.3 1254.1Z"/></g><g stroke="#000" stroke-width="1.3" fill="#000"><circle cx="503.6" cy="1294.9" r="2"/><path d="M498.6 1294.9H510.6M503.6 1290V1300"/><circle cx="663.4" cy="1294.9" r="2"/><path d="M658.4 1294.9H670.4M663.4 1290V1300"/></g><g fill="none" stroke="#000" stroke-width="3"><rect x="248.2" y="85.5" width="35" height="12"/><rect x="248.2" y="331.5" width="35" height="12"/><rect x="456.5" y="85.5" width="35" height="12"/><rect x="456.5" y="331.5" width="35" height="12"/></g><g fill="#000"><ellipse cx="265.7" cy="91" rx="3" ry="3.5"/><ellipse cx="265.7" cy="338" rx="3" ry="3.5"/><ellipse cx="474" cy="91" rx="3" ry="3.5"/><ellipse cx="474" cy="338" rx="3" ry="3.5"/></g><g fill="none" stroke="#000"><circle cx="237.7" cy="214.7" r="64" stroke-width="3"/><circle cx="237.7" cy="214.7" r="50.5" stroke-width="2.8"/><circle cx="369.5" cy="214.7" r="64" stroke-width="3"/><circle cx="369.5" cy="214.7" r="50.5" stroke-width="2.8"/><circle cx="502.0" cy="214.7" r="64" stroke-width="3"/><circle cx="502.0" cy="214.7" r="50.5" stroke-width="2.8"/></g><g fill="#fff" stroke="none"><rect x="181" y="97" width="377" height="63"/><rect x="181" y="268" width="377" height="64"/></g><g fill="none" stroke="#000" stroke-width="4.2"><rect x="183.3" y="99.6" width="372.4" height="60.8"/><rect x="183.6" y="268.7" width="371.4" height="61.3"/></g><g fill="none" stroke="#000" stroke-width="3"><path d="M292.8 100V160M315.2 100V160M292.8 108.5H315.2M292.8 151H315.2"/><path d="M292.8 269V330M315.2 269V330M292.8 278H315.2M292.8 321H315.2"/><path d="M424.5 100V160M446.5 100V160M424.5 108.5H446.5M424.5 151H446.5"/><path d="M424.5 269V330M446.5 269V330M424.5 278H446.5M424.5 321H446.5"/></g><path d="M237.9 329V295.8H505M501.5 295.8V330" fill="none" stroke="#000" stroke-width="4"/><path d="M234 326H505V332H234Z" fill="#000"/><rect x="234.2" y="294.2" width="7.5" height="38" fill="#000"/><rect x="498.3" y="294.2" width="7.5" height="38" fill="#000"/><g fill="#fff"><rect x="197.7" y="266" width="80" height="7"/><rect x="329.5" y="266" width="80" height="7"/><rect x="462.0" y="266" width="80" height="7"/></g><g fill="none" stroke="#000" stroke-width="3"><path d="M207.7 255A50.5 50.5 0 0 0 267.7 255"/><path d="M339.5 255A50.5 50.5 0 0 0 399.5 255"/><path d="M472.0 255A50.5 50.5 0 0 0 532.0 255"/></g><g fill="none" stroke="#000" stroke-width="2.6"><path d="M194.0 170L198.7 159M201.29999999999998 162L209.29999999999998 170M206.0 162L213.29999999999998 170"/><path d="M194.0 258L198.7 269M201.29999999999998 266L209.29999999999998 258M206.0 266L213.29999999999998 258"/><path d="M281.4 170L276.7 159M274.09999999999997 162L266.09999999999997 170M269.4 162L262.09999999999997 170"/><path d="M281.4 258L276.7 269M274.09999999999997 266L266.09999999999997 258M269.4 266L262.09999999999997 258"/><path d="M325.8 170L330.5 159M333.1 162L341.1 170M337.8 162L345.1 170"/><path d="M325.8 258L330.5 269M333.1 266L341.1 258M337.8 266L345.1 258"/><path d="M413.2 170L408.5 159M405.9 162L397.9 170M401.2 162L393.9 170"/><path d="M413.2 258L408.5 269M405.9 266L397.9 258M401.2 266L393.9 258"/><path d="M458.3 170L463.0 159M465.6 162L473.6 170M470.3 162L477.6 170"/><path d="M458.3 258L463.0 269M465.6 266L473.6 258M470.3 266L477.6 258"/><path d="M545.7 170L541.0 159M538.4 162L530.4 170M533.7 162L526.4 170"/><path d="M545.7 258L541.0 269M538.4 266L530.4 258M533.7 266L526.4 258"/></g><g fill="none" stroke="#000" stroke-width="3"><path d="M196.2 268L220.7 284.5H254.7L279.2 268"/><path d="M328.0 268L352.5 284.5H386.5L411.0 268"/><path d="M460.5 268L485.0 284.5H519.0L543.5 268"/></g><g fill="#000"><rect x="224.2" y="284" width="7" height="6"/><rect x="244.7" y="284" width="7" height="6"/><rect x="228.7" y="289" width="18" height="5"/><rect x="356.0" y="284" width="7" height="6"/><rect x="376.5" y="284" width="7" height="6"/><rect x="360.5" y="289" width="18" height="5"/><rect x="488.5" y="284" width="7" height="6"/><rect x="509.0" y="284" width="7" height="6"/><rect x="493.0" y="289" width="18" height="5"/></g><g fill="#fff" stroke="#000" stroke-width="3"><rect x="171.5" y="171.3" width="396.3" height="14.5"/><rect x="171.5" y="243.5" width="396.3" height="14.5"/></g><path d="M170 186.5H569M170 242H569" stroke="#000" stroke-width="2"/><g fill="none" stroke="#000" stroke-width="1.2"><path d="M204.0 161L214.7 186M204.0 268L214.7 243"/><path d="M271.4 161L260.7 186M271.4 268L260.7 243"/><path d="M335.8 161L346.5 186M335.8 268L346.5 243"/><path d="M403.2 161L392.5 186M403.2 268L392.5 243"/><path d="M468.3 161L479.0 186M468.3 268L479.0 243"/><path d="M535.7 161L525.0 186M535.7 268L525.0 243"/></g><g fill="none" stroke="#000" stroke-width="3"><path d="M209.7 157.7A63.5 63.5 0 0 1 265.7 157.7"/><path d="M341.5 157.7A63.5 63.5 0 0 1 397.5 157.7"/><path d="M474.0 157.7A63.5 63.5 0 0 1 530.0 157.7"/></g><path d="M568.8 189V226.4" stroke="#000" stroke-width="1.3"/><circle cx="568.8" cy="189" r="2.5"/><circle cx="568.8" cy="226.4" r="2.5"/><path d="M202 183.3H537Q550 214.7 537 246.7H202Q189 214.7 202 183.3Z" fill="#000"/><g stroke="#fff" fill="none"><path d="M211 199.2H530M211 206H530M209 224.2H530M211 231.5H528" stroke-width="1.3" stroke="#ccc"/><path d="M208 211.7H532M208 217.9H532" stroke-width="4.1"/></g><g stroke="#000" stroke-width="1.2" fill="none"><path d="M233.7 209.5L241.7 220M241.7 209.5L233.7 220"/><path d="M365.5 209.5L373.5 220M373.5 209.5L365.5 220"/><path d="M498.0 209.5L506.0 220M506.0 209.5L498.0 220"/></g><g fill="#000"><rect x="199.8" y="178" width="7" height="74" rx="3"/><rect x="299.8" y="178" width="7" height="74" rx="3"/><rect x="432.3" y="178" width="7" height="74" rx="3"/><rect x="532.3" y="178" width="7" height="74" rx="3"/><rect x="259" y="179.6" width="18" height="5"/><rect x="259" y="245" width="18" height="5"/><rect x="463" y="179.6" width="16.600000000000023" height="5"/><rect x="463" y="245" width="16.600000000000023" height="5"/></g><path d="M226.7 135H249.2V171H226.7Z" fill="#000"/><rect x="229.2" y="141" width="3" height="16" fill="#fff"/><rect x="229.2" y="163.5" width="3" height="6.5" fill="#fff"/><rect x="233.5" y="141" width="3" height="16" fill="#fff"/><rect x="233.5" y="163.5" width="3" height="6.5" fill="#fff"/><rect x="239.5" y="141" width="3" height="16" fill="#fff"/><rect x="239.5" y="163.5" width="3" height="6.5" fill="#fff"/><rect x="243.79999999999998" y="141" width="2.7" height="16" fill="#fff"/><rect x="243.79999999999998" y="163.5" width="2.7" height="6.5" fill="#fff"/><path d="M358.5 135H381.0V171H358.5Z" fill="#000"/><rect x="361.0" y="141" width="3" height="16" fill="#fff"/><rect x="361.0" y="163.5" width="3" height="6.5" fill="#fff"/><rect x="365.3" y="141" width="3" height="16" fill="#fff"/><rect x="365.3" y="163.5" width="3" height="6.5" fill="#fff"/><rect x="371.3" y="141" width="3" height="16" fill="#fff"/><rect x="371.3" y="163.5" width="3" height="6.5" fill="#fff"/><rect x="375.6" y="141" width="2.7" height="16" fill="#fff"/><rect x="375.6" y="163.5" width="2.7" height="6.5" fill="#fff"/><path d="M491.0 135H513.5V171H491.0Z" fill="#000"/><rect x="493.5" y="141" width="3" height="16" fill="#fff"/><rect x="493.5" y="163.5" width="3" height="6.5" fill="#fff"/><rect x="497.8" y="141" width="3" height="16" fill="#fff"/><rect x="497.8" y="163.5" width="3" height="6.5" fill="#fff"/><rect x="503.8" y="141" width="3" height="16" fill="#fff"/><rect x="503.8" y="163.5" width="3" height="6.5" fill="#fff"/><rect x="508.1" y="141" width="2.7" height="16" fill="#fff"/><rect x="508.1" y="163.5" width="2.7" height="6.5" fill="#fff"/><rect x="260.8" y="257" width="13.4" height="37" fill="#fff" stroke="#000" stroke-width="2.5"/><path d="M258.5 287H276.5L272.5 297H262.5Z" fill="#000"/><rect x="363.3" y="257" width="13.4" height="37" fill="#fff" stroke="#000" stroke-width="2.5"/><path d="M361 287H379L375 297H365Z" fill="#000"/><rect x="465.5" y="257" width="13.4" height="37" fill="#fff" stroke="#000" stroke-width="2.5"/><path d="M463.2 287H481.2L477.2 297H467.2Z" fill="#000"/><g stroke="#000" stroke-width="1" fill="none"><path d="M155 214.7H209M530 214.7H560"/><path d="M237.7 128V209M237.7 220V313"/><path d="M369.5 128V209M369.5 220V313"/><path d="M502.0 128V209M502.0 220V313"/></g><g font-family="Liberation Sans" font-weight="bold" fill="#000" text-anchor="middle"><text transform="translate(273.3 311.3) scale(0.62 1)" font-size="13.5">A</text><text transform="translate(378 311.3) scale(0.62 1)" font-size="13.5">B</text><text transform="translate(480.2 311.3) scale(0.62 1)" font-size="13.5">C</text><text transform="translate(303.3 140.5) scale(0.62 1)" font-size="10">0</text><text transform="translate(250.5 135.5) scale(0.62 1)" font-size="9">a</text><text transform="translate(383 135) scale(0.62 1)" font-size="9.5">b</text><text transform="translate(513 135) scale(0.62 1)" font-size="9">c</text></g><rect x="681" y="25" width="54.5" height="22" fill="#fff" stroke="#000" stroke-width="1.8"/><path d="M705 47V70M710.5 47V70" stroke="#000" stroke-width="1.6"/><path d="M690.5 47C690 58 674 56 674 67V73" fill="none" stroke="#000" stroke-width="2.6"/><path d="M671.2 72V398.5M675.3 72V398.5M670 398.5H677" fill="none" stroke="#000" stroke-width="2.8"/><path d="M674.5 399C674 410 684 418.5 700 418.8" fill="none" stroke="#000" stroke-width="3"/><path d="M670 72H677" stroke="#000" stroke-width="2"/><path d="M725.5 71V58.5H1049.5V71M727 60L737.5 70.5M1048 60L1037.5 70.5" fill="none" stroke="#000" stroke-width="3"/><path d="M690 106V72H1084.5V106" fill="none" stroke="#000" stroke-width="3"/><rect x="688.5" y="69.5" width="398.5" height="5" fill="#000"/><rect x="688.5" y="103" width="398.5" height="5" fill="#000"/><rect x="1082.5" y="69.5" width="4.5" height="38.5" fill="#000"/><rect x="1081" y="63" width="7" height="7" rx="2" fill="#000"/><path d="M692 89H950M965 89H1100" stroke="#000" stroke-width="1.1"/><g fill="#000" stroke="#000"><circle cx="821.9" cy="89" r="6" fill="none" stroke-width="1.5"/><circle cx="821.9" cy="89" r="4"/><path d="M821.9 80V98" stroke-width="1.2"/><circle cx="953.8" cy="89" r="6" fill="none" stroke-width="1.5"/><circle cx="953.8" cy="89" r="4"/><path d="M953.8 80V98" stroke-width="1.2"/><circle cx="721.5" cy="80" r="4.5"/><circle cx="1054.4" cy="80.2" r="4.5"/><circle cx="697.5" cy="88" r="5"/><circle cx="1078.4" cy="89" r="5"/><rect x="717.0" y="93.5" width="16" height="10" rx="2"/><rect x="778.3" y="93.5" width="8" height="10" rx="2"/><rect x="857.5" y="93.5" width="8" height="10" rx="2"/><rect x="989.0" y="93.5" width="8" height="10" rx="2"/><rect x="1042.6" y="93.5" width="16" height="10" rx="2"/><rect x="663" y="93.5" width="26" height="8.5"/><rect x="662.5" y="378.5" width="41.5" height="6.5"/></g><circle cx="755.3" cy="77.5" r="6.5" fill="#fff" stroke="#000" stroke-width="3"/><circle cx="755.3" cy="77.5" r="3.8" fill="#000"/><circle cx="887.8" cy="77.5" r="6.5" fill="#fff" stroke="#000" stroke-width="3"/><circle cx="887.8" cy="77.5" r="3.8" fill="#000"/><circle cx="1020.5" cy="77.5" r="6.5" fill="#fff" stroke="#000" stroke-width="3"/><circle cx="1020.5" cy="77.5" r="3.8" fill="#000"/><rect x="713.0" y="107.5" width="26.75" height="17.5" fill="#fff" stroke="#000" stroke-width="2.6"/><path d="M722.9 107.5V125" stroke="#000" stroke-width="2.6"/><rect x="769.0" y="107.5" width="28.5" height="17.5" fill="#fff" stroke="#000" stroke-width="2.6"/><path d="M787.6 107.5V125" stroke="#000" stroke-width="2.6"/><rect x="750.0" y="107.5" width="5.25" height="17.5" fill="#000"/><rect x="760.5" y="107.5" width="7" height="17.5" fill="#000"/><rect x="801.5" y="107.5" width="41.5" height="17.5" fill="#fff" stroke="#000" stroke-width="3"/><path d="M800.0 117.25H844.5" stroke="#000" stroke-width="3"/><rect x="845.5" y="107.5" width="26.75" height="17.5" fill="#fff" stroke="#000" stroke-width="2.6"/><path d="M855.4 107.5V125" stroke="#000" stroke-width="2.6"/><rect x="901.5" y="107.5" width="28.5" height="17.5" fill="#fff" stroke="#000" stroke-width="2.6"/><path d="M920.1 107.5V125" stroke="#000" stroke-width="2.6"/><rect x="882.5" y="107.5" width="5.25" height="17.5" fill="#000"/><rect x="893.0" y="107.5" width="7" height="17.5" fill="#000"/><rect x="934.0" y="107.5" width="41.5" height="17.5" fill="#fff" stroke="#000" stroke-width="3"/><path d="M932.5 117.25H977.0" stroke="#000" stroke-width="3"/><rect x="978.0" y="107.5" width="26.75" height="17.5" fill="#fff" stroke="#000" stroke-width="2.6"/><path d="M987.9 107.5V125" stroke="#000" stroke-width="2.6"/><rect x="1034.0" y="107.5" width="28.5" height="17.5" fill="#fff" stroke="#000" stroke-width="2.6"/><path d="M1052.6 107.5V125" stroke="#000" stroke-width="2.6"/><rect x="1015.0" y="107.5" width="5.25" height="17.5" fill="#000"/><rect x="1025.5" y="107.5" width="7" height="17.5" fill="#000"/><rect x="713.0" y="355.5" width="26.75" height="16.5" fill="#fff" stroke="#000" stroke-width="2.6"/><path d="M722.9 355.5V372" stroke="#000" stroke-width="2.6"/><rect x="769.0" y="355.5" width="28.5" height="16.5" fill="#fff" stroke="#000" stroke-width="2.6"/><path d="M787.6 355.5V372" stroke="#000" stroke-width="2.6"/><rect x="750.0" y="355.5" width="5.25" height="16.5" fill="#000"/><rect x="760.5" y="355.5" width="7" height="16.5" fill="#000"/><rect x="801.5" y="355.5" width="41.5" height="16.5" fill="#fff" stroke="#000" stroke-width="3"/><path d="M800.0 362.75H844.5" stroke="#000" stroke-width="3"/><rect x="845.5" y="355.5" width="26.75" height="16.5" fill="#fff" stroke="#000" stroke-width="2.6"/><path d="M855.4 355.5V372" stroke="#000" stroke-width="2.6"/><rect x="901.5" y="355.5" width="28.5" height="16.5" fill="#fff" stroke="#000" stroke-width="2.6"/><path d="M920.1 355.5V372" stroke="#000" stroke-width="2.6"/><rect x="882.5" y="355.5" width="5.25" height="16.5" fill="#000"/><rect x="893.0" y="355.5" width="7" height="16.5" fill="#000"/><rect x="934.0" y="355.5" width="41.5" height="16.5" fill="#fff" stroke="#000" stroke-width="3"/><path d="M932.5 362.75H977.0" stroke="#000" stroke-width="3"/><rect x="978.0" y="355.5" width="26.75" height="16.5" fill="#fff" stroke="#000" stroke-width="2.6"/><path d="M987.9 355.5V372" stroke="#000" stroke-width="2.6"/><rect x="1034.0" y="355.5" width="28.5" height="16.5" fill="#fff" stroke="#000" stroke-width="2.6"/><path d="M1052.6 355.5V372" stroke="#000" stroke-width="2.6"/><rect x="1015.0" y="355.5" width="5.25" height="16.5" fill="#000"/><rect x="1025.5" y="355.5" width="7" height="16.5" fill="#000"/><rect x="711" y="349" width="355" height="7" fill="#000"/><g fill="none" stroke="#000" stroke-width="3"><rect x="694.0" y="127.5" width="124" height="222.5"/><path d="M737.5 127.5V350M774.5 127.5V350"/><rect x="826.5" y="127.5" width="124" height="222.5"/><path d="M870.0 127.5V350M907.0 127.5V350"/><rect x="959.0" y="127.5" width="124" height="222.5"/><path d="M1002.5 127.5V350M1039.5 127.5V350"/></g><g stroke="#000" stroke-width="1.1"><path d="M755.3 50V182M755.3 211V221M755.3 267V388"/><path d="M887.8 50V182M887.8 211V221M887.8 267V388"/><path d="M1020.5 50V182M1020.5 211V221M1020.5 267V388"/></g><g><rect x="742.8" y="187.5" width="12" height="18" fill="#000"/><path d="M745.3 191.5H751.8M745.3 196H748.3M745.3 200H748.3" stroke="#fff" stroke-width="1.4"/><path d="M749.8 195V203" stroke="#fff" stroke-width="1.4"/><circle cx="748.0" cy="228" r="7.2" fill="#000"/><circle cx="748.0" cy="242.5" r="7.2" fill="#000"/><circle cx="748.0" cy="258" r="7.2" fill="#000"/><circle cx="763.5" cy="219.6" r="7.2" fill="#000"/><circle cx="763.5" cy="235.2" r="7.2" fill="#000"/><circle cx="763.5" cy="250.8" r="7.2" fill="#000"/><rect x="764.3" y="141.5" width="7" height="8" fill="#fff" stroke="#000" stroke-width="1.6"/><rect x="764.3" y="330.5" width="7" height="8" fill="#fff" stroke="#000" stroke-width="1.6"/><rect x="875.3" y="187.5" width="12" height="18" fill="#000"/><path d="M877.8 191.5H884.3M877.8 196H880.8M877.8 200H880.8" stroke="#fff" stroke-width="1.4"/><path d="M882.3 195V203" stroke="#fff" stroke-width="1.4"/><circle cx="880.5" cy="228" r="7.2" fill="#000"/><circle cx="880.5" cy="242.5" r="7.2" fill="#000"/><circle cx="880.5" cy="258" r="7.2" fill="#000"/><circle cx="896.0" cy="219.6" r="7.2" fill="#000"/><circle cx="896.0" cy="235.2" r="7.2" fill="#000"/><circle cx="896.0" cy="250.8" r="7.2" fill="#000"/><rect x="896.8" y="141.5" width="7" height="8" fill="#fff" stroke="#000" stroke-width="1.6"/><rect x="896.8" y="330.5" width="7" height="8" fill="#fff" stroke="#000" stroke-width="1.6"/><rect x="1008.0" y="187.5" width="12" height="18" fill="#000"/><path d="M1010.5 191.5H1017.0M1010.5 196H1013.5M1010.5 200H1013.5" stroke="#fff" stroke-width="1.4"/><path d="M1015.0 195V203" stroke="#fff" stroke-width="1.4"/><circle cx="1013.2" cy="228" r="7.2" fill="#000"/><circle cx="1013.2" cy="242.5" r="7.2" fill="#000"/><circle cx="1013.2" cy="258" r="7.2" fill="#000"/><circle cx="1028.7" cy="219.6" r="7.2" fill="#000"/><circle cx="1028.7" cy="235.2" r="7.2" fill="#000"/><circle cx="1028.7" cy="250.8" r="7.2" fill="#000"/><rect x="1029.5" y="141.5" width="7" height="8" fill="#fff" stroke="#000" stroke-width="1.6"/><rect x="1029.5" y="330.5" width="7" height="8" fill="#fff" stroke="#000" stroke-width="1.6"/></g><path d="M751 83C743 93 741.5 106 742.5 122C743.5 137 748 146 755.3 153" fill="none" stroke="#000" stroke-width="7.5"/><path d="M751 83C743 93 741.5 106 742.5 122C743.5 137 748 146 755.3 153" fill="none" stroke="#fff" stroke-width="3" stroke-dasharray="5 1.5"/><path d="M1025 83C1032 93 1034 106 1033 122C1032 137 1027 146 1020.5 153" fill="none" stroke="#000" stroke-width="7.5"/><path d="M1025 83C1032 93 1034 106 1033 122C1032 137 1027 146 1020.5 153" fill="none" stroke="#fff" stroke-width="3" stroke-dasharray="5 1.5"/><path d="M888 78C902 83 911 93 911 106V124C911 136 896 145 888 153" fill="none" stroke="#000" stroke-width="6.5"/><path d="M755.3 153.3L1020.7 322.7" stroke="#000" stroke-width="8.5"/><path d="M755.3 153.3L1020.7 322.7" stroke="#fff" stroke-width="3"/><path d="M887.3 153.3L755.3 322.7" stroke="#000" stroke-width="8.5"/><path d="M887.3 153.3L755.3 322.7" stroke="#fff" stroke-width="3"/><path d="M1020.7 153.3L887.3 322.7" stroke="#000" stroke-width="8.5"/><path d="M1020.7 153.3L887.3 322.7" stroke="#fff" stroke-width="3"/><circle cx="755.3" cy="153.3" r="8.8" fill="#000"/><circle cx="1020.7" cy="322.7" r="8.8" fill="#000"/><circle cx="887.3" cy="153.3" r="8.8" fill="#000"/><circle cx="755.3" cy="322.7" r="8.8" fill="#000"/><circle cx="1020.7" cy="153.3" r="8.8" fill="#000"/><circle cx="887.3" cy="322.7" r="8.8" fill="#000"/><path d="M690 371V408M701.2 374V423.5M701 412.6H1087M701 422.4H1075V412M1085 371V412" fill="none" stroke="#000" stroke-width="3.2"/><rect x="688.5" y="404.7" width="13" height="3.6" fill="#000"/><rect x="688.5" y="370.7" width="398.5" height="4" fill="#000"/><path d="M690 389.8H848M862 389.8H940M967 389.8H1100" stroke="#000" stroke-width="1.1"/><g fill="#fff" stroke="#000" stroke-width="2.5"><rect x="811.6" y="374" width="21.6" height="37"/><path d="M810.4 404H834.4" stroke-width="3"/><rect x="942.9000000000001" y="374" width="21.899999999999956" height="37"/><path d="M941.7 404H966" stroke-width="3"/><rect x="1074.5" y="372" width="12" height="39"/></g><g fill="#000" stroke="#000"><circle cx="821.9" cy="389.8" r="6" fill="none" stroke-width="1.5"/><circle cx="821.9" cy="389.8" r="4"/><circle cx="953.9" cy="389.5" r="6" fill="none" stroke-width="1.5"/><circle cx="953.9" cy="389.5" r="4"/><circle cx="1079.6" cy="389.5" r="4.5" fill="none" stroke-width="1.5"/><circle cx="1079.6" cy="389.5" r="2.5"/><circle cx="696.9" cy="390" r="5" fill="none" stroke-width="1.5"/><circle cx="696.9" cy="390" r="3"/></g><g stroke="#000" stroke-width="1.6"><path d="M708.3 414V431"/><path d="M803 414V431"/><path d="M839.6 414V431"/><path d="M887.5 414V431"/><path d="M936.2 414V431"/><path d="M972.6 414V431"/><path d="M1067.4 414V431"/><path d="M1021 414V431"/></g><g fill="#000"><circle cx="760" cy="429.7" r="4.6"/><rect x="764" y="424" width="5" height="14.699999999999989" rx="1.5"/><rect x="778.3" y="424" width="11.400000000000091" height="5.699999999999989" rx="1.5"/><rect x="798" y="424" width="5.2999999999999545" height="14.699999999999989" rx="1.5"/><rect x="972.6" y="424" width="5.399999999999977" height="14.699999999999989" rx="1.5"/><rect x="985.8" y="424" width="11.100000000000023" height="5.699999999999989" rx="1.5"/><rect x="1005.7" y="424" width="5.5" height="14.699999999999989" rx="1.5"/></g><path d="M690 404V471" stroke="#000" stroke-width="1.3"/><path d="M347.5 400V462" stroke="#000" stroke-width="1.2"/><rect x="217.5" y="827.5" width="258.5" height="15" fill="#fff" stroke="#000" stroke-width="2.8"/><path d="M216 827H477.5" stroke="#000" stroke-width="3.6"/><circle cx="223.75" cy="836.3" r="3.3" fill="#000"/><circle cx="470" cy="836.3" r="3.3" fill="#000"/><g stroke="#000" stroke-width="1.5"><path d="M236.25 822V833"/><path d="M289.3 822V833"/><path d="M310 822V833"/><path d="M384 822V833"/><path d="M406 822V833"/><path d="M458.75 822V833"/></g><path d="M232.5 826V778.7H293.5V826M462.5 826V778.7H402V826" fill="none" stroke="#000" stroke-width="3"/><rect x="229" y="815" width="5" height="11" fill="#000"/><rect x="461" y="815" width="5" height="11" fill="#000"/><path d="M417.2 534.3H285.3V756H417.2" fill="none" stroke="#000" stroke-width="3.6"/><path d="M417.2 532.5V757.8" stroke="#000" stroke-width="2"/><g fill="#fff" stroke="#000" stroke-width="3"><rect x="291.7" y="517.5" width="31.5" height="15.5"/><rect x="371.2" y="514.5" width="32.5" height="18.5"/><rect x="291.5" y="758" width="33" height="18.5"/><rect x="370.7" y="758" width="33.5" height="18.5"/></g><path d="M297 517V533M397.5 514V533M294 758V777M299 758V777M394.7 758V777M401 758V777" stroke="#000" stroke-width="2.5"/><rect x="312.75" y="460" width="6" height="16" fill="#000"/><rect x="375.75" y="460" width="6.75" height="16" fill="#000"/><path d="M322.5 475H304.5Q300 480 306 484Q300 489 306 493Q300 498 306 502Q300 508 304.5 514H322.5Z" fill="#000"/><path d="M373.5 475H390Q395 480 389 484Q395 489 389 493Q395 498 389 502Q395 508 391 514H373.5Z" fill="#000"/><path d="M324.7 776H305Q300 780 306 786Q299 792 306 798Q301 806 302 826H324.7Z" fill="#000"/><path d="M370.7 776H390Q395 780 389 786Q396 792 389 798Q394 806 393 826H370.7Z" fill="#000"/><rect x="306.5" y="814.3" width="14" height="9.4" fill="#fff" stroke="#000" stroke-width="2.2"/><rect x="377.7" y="814.3" width="12.5" height="9.4" fill="#fff" stroke="#000" stroke-width="2.2"/><path d="M310 814V824M317.3 814V824M381 814V824M386.5 814V824" stroke="#000" stroke-width="2"/><path d="M322.5 533V487A25.5 25.5 0 0 1 373.5 487V533Z" fill="#000"/><g stroke="#fff" fill="none"><path d="M331 470V533" stroke-width="1.6"/><path d="M337.8 470V533" stroke-width="2.2"/><path d="M344.6 470V533" stroke-width="3.6"/><path d="M350.6 470V533" stroke-width="3.6"/><path d="M356.6 470V533" stroke-width="2.2"/><path d="M363.4 470V533" stroke-width="1.6"/><path d="M330 486H366M330 495H366M330 504H366" stroke-width="1.2" stroke="#aaa"/></g><rect x="322" y="757" width="51" height="69" fill="#000"/><g stroke="#fff" fill="none"><path d="M330.7 758V822" stroke-width="1.4"/><path d="M338 758V822" stroke-width="1.8"/><path d="M344.7 758V822" stroke-width="3.8"/><path d="M350.7 758V822" stroke-width="3.8"/><path d="M356.7 758V822" stroke-width="1.8"/><path d="M363.3 758V822" stroke-width="1.4"/><path d="M330 786.3H366M330 795.7H366M330 803.7H366" stroke-width="1.2" stroke="#aaa"/></g><path d="M347.5 462V533M347.5 535V610M347.5 638V666M347.5 693.6V848" stroke="#000" stroke-width="1.3"/><path d="M347.1 549.5L334.5 570.5H360Z" fill="#fff" stroke="#000" stroke-width="3" stroke-linejoin="miter"/><path d="M348 555L345 562H350L347 567M341 566H353" fill="none" stroke="#000" stroke-width="1.6"/><path d="M347.5 549V571" stroke="#000" stroke-width="1.1"/><g fill="#000" stroke="#000"><rect x="267.75" y="444" width="6" height="58"/><path d="M270.7 500V506L291 518" fill="none" stroke-width="5.5"/><rect x="287.25" y="460" width="6.75" height="50"/><circle cx="290.5" cy="450" r="5.5"/><circle cx="290.5" cy="461" r="5.5"/><path d="M285 466H300V472H285Z"/><path d="M290.5 508Q292 516 304 516" fill="none" stroke-width="5"/></g><path d="M273 489.2H288M273 501.7H288M293 476H306M293 488.8H306" stroke="#000" stroke-width="2.8"/><path d="M273 495.8H288M293 483.6H306" stroke="#000" stroke-width="2"/><circle cx="268" cy="496" r="3.5" fill="#000"/><circle cx="295" cy="496" r="4" fill="#000"/><rect x="383.5" y="476" width="38.5" height="13.5" fill="#fff" stroke="#000" stroke-width="2.8"/><path d="M383.5 483H422" stroke="#000" stroke-width="2.3"/><path d="M423 490C419 510 424 530 428 548C430 552 429.6 555 429.6 560" fill="none" stroke="#000" stroke-width="4.5"/><path d="M420.3 550V735" stroke="#000" stroke-width="1.8"/><path d="M428 550V735" stroke="#000" stroke-width="3.8"/><path d="M418 551H428M418 565H428M418 720H428M418 735H428" stroke="#000" stroke-width="2"/><path d="M428 558.2H452Q459.2 558.2 459.2 566V718Q459.2 726 452 726H428" fill="none" stroke="#000" stroke-width="3.8"/><rect x="417.25" y="611.7" width="4.5" height="65" fill="#000"/><g stroke="#000" stroke-width="1.3"><path d="M412 617.8H424.3"/><path d="M412 625.5H424.3"/><path d="M412 633.2H424.3"/><path d="M412 640.9H424.3"/><path d="M412 648.5H424.3"/><path d="M412 656.2H424.3"/><path d="M412 663.9H424.3"/><path d="M412 671.6H424.3"/></g><circle cx="423" cy="645" r="4.5" fill="#000"/></svg></body></html>
